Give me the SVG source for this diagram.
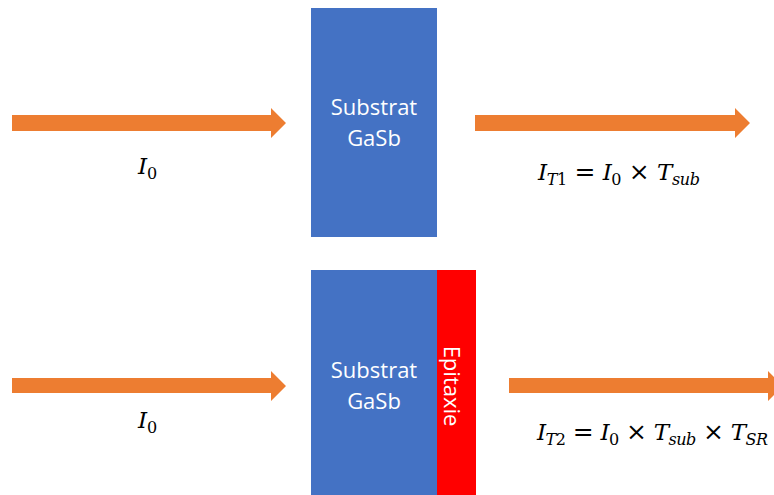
<svg xmlns="http://www.w3.org/2000/svg" width="774" height="495" viewBox="0 0 774 495">
<style>
.arrow{fill:#ED7D31}
.sub{fill:#4472C4}
.epi{fill:#FF0000}
.lbl{font-family:"Open Sans","Liberation Sans",sans-serif;font-size:22px;fill:#FFFFFF;text-anchor:middle}
.math{font-family:"DejaVu Serif","Liberation Serif",serif;font-size:23px;fill:#000000}
.it{font-style:italic}
.s{font-size:16px}
.op{font-size:25px}
</style>
<rect width="774" height="495" fill="#FFFFFF"/>
<g id="connectors">
<polygon class="arrow" points="12,115 271,115 271,108 286,123 271,138 271,131 12,131"/>
<polygon class="arrow" points="475,115 735,115 735,108 750,123 735,138 735,131 475,131"/>
<polygon class="arrow" points="12,378 271,378 271,371 286,386 271,401 271,393 12,393"/>
<polygon class="arrow" points="509,378 768,378 768,371 783,386 768,401 768,393 509,393"/>
</g>
<g id="substrat1">
<rect class="sub" x="311" y="8" width="126" height="229"/>
<text class="lbl" x="374" y="115">Substrat</text>
<text class="lbl" x="374" y="146">GaSb</text>
</g>
<g id="substrat2">
<rect class="sub" x="311" y="270" width="126" height="225"/>
<text class="lbl" x="374" y="378">Substrat</text>
<text class="lbl" x="374" y="409">GaSb</text>
</g>
<g id="epitaxie">
<rect class="epi" x="437" y="270" width="39" height="225"/>
<text class="lbl" transform="translate(444,386) rotate(90)" x="0" y="0">Epitaxie</text>
</g>
<g id="label-i0-top">
<text class="math" x="138" y="174"><tspan class="it">I</tspan><tspan class="s" dy="5">0</tspan></text>
</g>
<g id="label-it1">
<text class="math" x="538" y="180" textLength="162" lengthAdjust="spacing"><tspan class="it">I</tspan><tspan class="s it" dy="5">T</tspan><tspan class="s" dy="0">1</tspan><tspan class="op" dy="-5"> = </tspan><tspan class="it">I</tspan><tspan class="s" dy="5">0</tspan><tspan class="op" dy="-5"> × </tspan><tspan class="it">T</tspan><tspan class="s it" dy="5">sub</tspan></text>
</g>
<g id="label-i0-bottom">
<text class="math" x="138" y="428"><tspan class="it">I</tspan><tspan class="s" dy="5">0</tspan></text>
</g>
<g id="label-it2">
<text class="math" x="537" y="440" textLength="231" lengthAdjust="spacing"><tspan class="it">I</tspan><tspan class="s it" dy="5">T</tspan><tspan class="s" dy="0">2</tspan><tspan class="op" dy="-5"> = </tspan><tspan class="it">I</tspan><tspan class="s" dy="5">0</tspan><tspan class="op" dy="-5"> × </tspan><tspan class="it">T</tspan><tspan class="s it" dy="5">sub</tspan><tspan class="op" dy="-5"> × </tspan><tspan class="it">T</tspan><tspan class="s it" dy="5">SR</tspan></text>
</g>
</svg>
